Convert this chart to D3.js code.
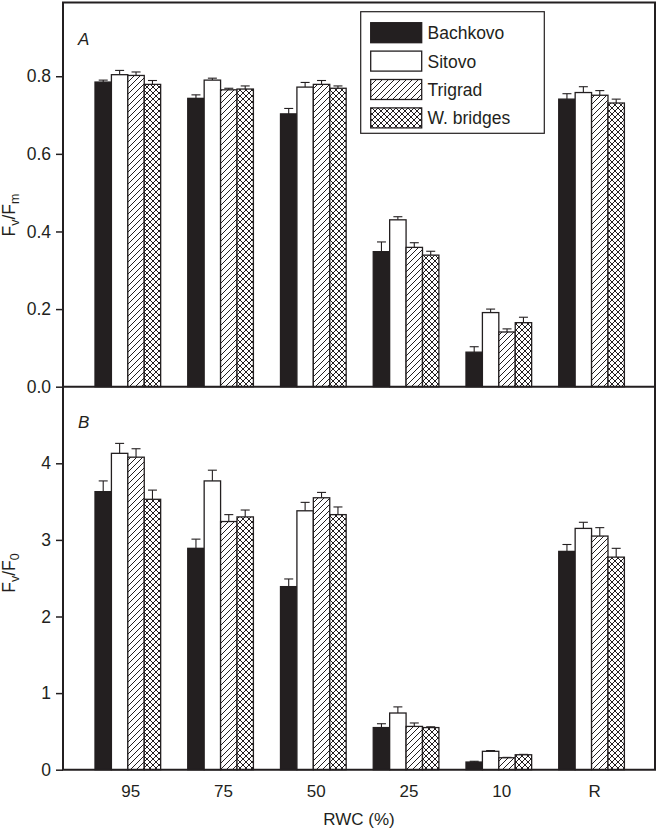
<!DOCTYPE html>
<html><head><meta charset="utf-8">
<script src="https://cdn.jsdelivr.net/npm/d3@7"></script>
<style>
body{margin:0;background:#fff;}
svg text{font-family:"Liberation Sans",Arial,Helvetica,sans-serif;fill:#231f20;}
</style></head>
<body><svg id="c" width="658" height="834"></svg>
<script>
const categories = ["95","75","50","25","10","R"];
const series = ["Bachkovo","Sitovo","Trigrad","W. bridges"];
// Panel A: Fv/Fm  (means and SE)
const fvfmBachkovo = [0.785,0.743,0.703,0.348,0.089,0.741];
const fvfmSitovo   = [0.804,0.790,0.772,0.430,0.191,0.758];
const fvfmTrigrad  = [0.802,0.765,0.779,0.359,0.141,0.751];
const fvfmWbridges = [0.779,0.767,0.769,0.339,0.165,0.731];
const fvfmErrBachkovo = [0.005,0.009,0.014,0.025,0.014,0.014];
const fvfmErrSitovo   = [0.011,0.005,0.012,0.008,0.009,0.015];
const fvfmErrTrigrad  = [0.009,0.004,0.010,0.012,0.008,0.012];
const fvfmErrWbridges = [0.010,0.008,0.006,0.010,0.014,0.010];
// Panel B: Fv/F0
const fvf0Bachkovo = [3.63,2.89,2.39,0.55,0.10,2.85];
const fvf0Sitovo   = [4.13,3.77,3.38,0.74,0.24,3.15];
const fvf0Trigrad  = [4.08,3.24,3.55,0.565,0.156,3.05];
const fvf0Wbridges = [3.53,3.30,3.33,0.55,0.195,2.775];
const fvf0ErrBachkovo = [0.14,0.12,0.10,0.05,0.01,0.09];
const fvf0ErrSitovo   = [0.13,0.14,0.11,0.08,0.01,0.08];
const fvf0ErrTrigrad  = [0.11,0.09,0.07,0.045,0.005,0.11];
const fvf0ErrWbridges = [0.12,0.09,0.10,0.01,0.005,0.115];
const ticksA = [0,0.2,0.4,0.6,0.8];
const ticksB = [0,1,2,3,4];

const dataA = [fvfmBachkovo,fvfmSitovo,fvfmTrigrad,fvfmWbridges];
const errA  = [fvfmErrBachkovo,fvfmErrSitovo,fvfmErrTrigrad,fvfmErrWbridges];
const dataB = [fvf0Bachkovo,fvf0Sitovo,fvf0Trigrad,fvf0Wbridges];
const errB  = [fvf0ErrBachkovo,fvf0ErrSitovo,fvf0ErrTrigrad,fvf0ErrWbridges];

const ink = "#231f20";
const svg = d3.select("#c");
const L = 63, R = 655;
const defs = svg.append("defs");
const hatch = defs.append("pattern").attr("id","hatch").attr("patternUnits","userSpaceOnUse")
  .attr("width",6).attr("height",6);
hatch.append("rect").attr("width",6).attr("height",6).attr("fill","#fff");
hatch.append("path").attr("d","M-1,1 L1,-1 M0,6 L6,0 M5,7 L7,5").attr("stroke",ink).attr("stroke-width",1);
const cw = 6;
const cross = defs.append("pattern").attr("id","cross").attr("patternUnits","userSpaceOnUse")
  .attr("width",cw).attr("height",cw);
cross.append("rect").attr("width",cw).attr("height",cw).attr("fill","#fff");
cross.append("path").attr("d",`M0,${cw} L${cw},0 M0,0 L${cw},${cw} M-1,1 L1,-1 M${cw-1},${cw+1} L${cw+1},${cw-1} M-1,${cw-1} L1,${cw+1} M${cw-1},-1 L${cw+1},1`)
  .attr("stroke",ink).attr("stroke-width",1);
const fills = [ink,"#fff","url(#hatch)","url(#cross)"];

const x = d3.scaleBand().domain(categories).range([95,624.4]).paddingInner(0.292).paddingOuter(0);
const xs = d3.scaleBand().domain(series).range([0,x.bandwidth()]);

const yA = d3.scaleLinear().domain([0,0.99]).range([386.7,2.5]);
const yB = d3.scaleLinear().domain([0,5]).range([769.7,386.7]);

function panel(y, data, err, ticks, fmt){
  const g = svg.append("g");
  categories.forEach((c,ci)=>{
    series.forEach((s,si)=>{
      const v = data[si][ci], e = err[si][ci];
      const bx = x(c)+xs(s), bw = xs.bandwidth();
      const cx = bx+bw/2;
      g.append("line").attr("x1",cx).attr("x2",cx).attr("y1",y(v)).attr("y2",y(v+e))
        .attr("stroke",ink).attr("stroke-width",1.1);
      g.append("line").attr("x1",cx-4.5).attr("x2",cx+4.5).attr("y1",y(v+e)).attr("y2",y(v+e))
        .attr("stroke",ink).attr("stroke-width",1.1);
      g.append("rect").attr("x",bx).attr("y",y(v)).attr("width",bw).attr("height",y(0)-y(v))
        .attr("fill",fills[si]).attr("stroke",ink).attr("stroke-width",1.3);
    });
  });
  const ax = svg.append("g").attr("transform",`translate(${L},0)`)
    .call(d3.axisLeft(y).tickValues(ticks).tickFormat(fmt).tickSize(7).tickSizeOuter(0).tickPadding(5));
  ax.select(".domain").remove();
  ax.selectAll(".tick line").attr("stroke",ink).attr("stroke-width",1.5);
  ax.selectAll(".tick text").attr("font-size",17.5).style("font-family","'Liberation Sans',Arial,sans-serif").attr("fill",ink);
}
panel(yA,dataA,errA,ticksA,d3.format(".1f"));
panel(yB,dataB,errB,ticksB,d3.format("d"));

// frames
svg.append("path").attr("d",`M${L},${yB(0)} L${L},${yA.range()[1]} L${R},${yA.range()[1]} L${R},${yB(0)} Z M${L},${yA(0)} L${R},${yA(0)}`)
  .attr("fill","none").attr("stroke",ink).attr("stroke-width",2);

// panel letters
svg.append("text").attr("x",78).attr("y",45).attr("font-size",17).attr("font-style","italic").text("A");
svg.append("text").attr("x",78).attr("y",428).attr("font-size",17).attr("font-style","italic").text("B");

// x tick labels
svg.append("g").selectAll("text").data(categories).join("text")
  .attr("x",d=>x(d)+x.bandwidth()/2+3).attr("y",797).attr("text-anchor","middle").attr("font-size",17).text(d=>d);
svg.append("text").attr("x",359).attr("y",825).attr("text-anchor","middle").attr("font-size",17).text("RWC (%)");

// y titles
const tA = svg.append("text").attr("transform","translate(15,215) rotate(-90)").attr("text-anchor","middle").attr("font-size",17.5);
tA.append("tspan").text("F");
tA.append("tspan").attr("font-size",12.5).attr("dy",4).text("v");
tA.append("tspan").attr("dy",-4).text("/F");
tA.append("tspan").attr("font-size",12.5).attr("dy",4).text("m");
const tB = svg.append("text").attr("transform","translate(15,573) rotate(-90)").attr("text-anchor","middle").attr("font-size",17.5);
tB.append("tspan").text("F");
tB.append("tspan").attr("font-size",12.5).attr("dy",4).text("v");
tB.append("tspan").attr("dy",-4).text("/F");
tB.append("tspan").attr("font-size",12.5).attr("dy",4).text("0");

// legend
const lg = svg.append("g");
lg.append("rect").attr("x",360.7).attr("y",11.7).attr("width",183.6).attr("height",121.6)
  .attr("fill","#fff").attr("stroke",ink).attr("stroke-width",1.2);
series.forEach((s,i)=>{
  const yy = 22.7 + i*28.4;
  lg.append("rect").attr("x",370.7).attr("y",yy).attr("width",51).attr("height",20)
    .attr("fill",fills[i]).attr("stroke",ink).attr("stroke-width",1.3);
  lg.append("text").attr("x",427.5).attr("y",yy+16.5).attr("font-size",17.5).text(s);
});
</script></body></html>
